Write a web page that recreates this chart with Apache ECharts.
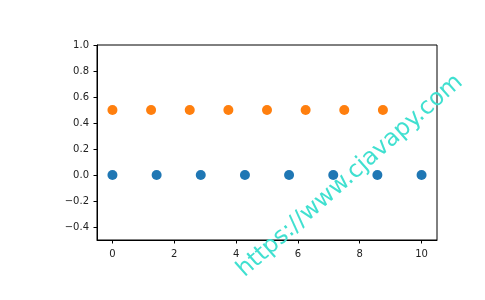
<!DOCTYPE html>
<html><head><meta charset="utf-8">
<script src="https://cdn.jsdelivr.net/npm/echarts@6/dist/echarts.min.js"></script>
<style>html,body{margin:0;padding:0;background:#fff}#c{width:485px;height:300px}</style>
</head><body><div id="c"></div>
<script>
const blueX = [0, 1.4286, 2.8571, 4.2857, 5.7143, 7.1429, 8.5714, 10];
const blueY = [0, 0, 0, 0, 0, 0, 0, 0];
const orangeX = [0, 1.25, 2.5, 3.75, 5, 6.25, 7.5, 8.75];
const orangeY = [0.5, 0.5, 0.5, 0.5, 0.5, 0.5, 0.5, 0.5];
const xTicks = [0, 2, 4, 6, 8, 10];
const yTicks = [-0.4, -0.2, 0.0, 0.2, 0.4, 0.6, 0.8, 1.0];
const watermark = 'https://www.cjavapy.com';

const chart = echarts.init(document.getElementById('c'), null, {renderer: 'canvas'});
const lineStyle = {show: true, onZero: false, lineStyle: {color: '#000', width: 1}};
chart.setOption({
  animation: false,
  grid: {left: 97, top: 45, width: 340, height: 195, show: true, borderColor: '#000', borderWidth: 1},
  xAxis: {type: 'value', min: -0.5, max: 10.5,
    axisLine: lineStyle, splitLine: {show: false},
    axisTick: {show: true, length: 3.5, customValues: xTicks, lineStyle: {color: '#000'}},
    axisLabel: {color: '#222', fontFamily: 'DejaVu Sans', fontSize: 10, margin: 9, customValues: xTicks, formatter: v => String(v)}
  },
  yAxis: {type: 'value', min: -0.5, max: 1.0,
    axisLine: lineStyle, splitLine: {show: false},
    axisTick: {show: true, length: 3.5, customValues: yTicks, lineStyle: {color: '#000'}},
    axisLabel: {color: '#222', fontFamily: 'DejaVu Sans', fontSize: 10, margin: 8, customValues: yTicks, formatter: v => (v < 0 ? '\u2212' : '') + Math.abs(v).toFixed(1)}
  },
  series: [
    {type: 'scatter', data: blueX.map((x, i) => [x, blueY[i]]), symbolSize: 10, itemStyle: {color: '#1f77b4', opacity: 1}},
    {type: 'scatter', data: orangeX.map((x, i) => [x, orangeY[i]]), symbolSize: 10, itemStyle: {color: '#ff7f0e', opacity: 1}}
  ],
  graphic: [{
    type: 'text', x: 350, y: 176, rotation: 0.725, z: 100,
    style: {text: watermark, fill: '#40e0d0', font: '23.5px "DejaVu Sans"', align: 'center', verticalAlign: 'middle'}
  }]
});
</script></body></html>
